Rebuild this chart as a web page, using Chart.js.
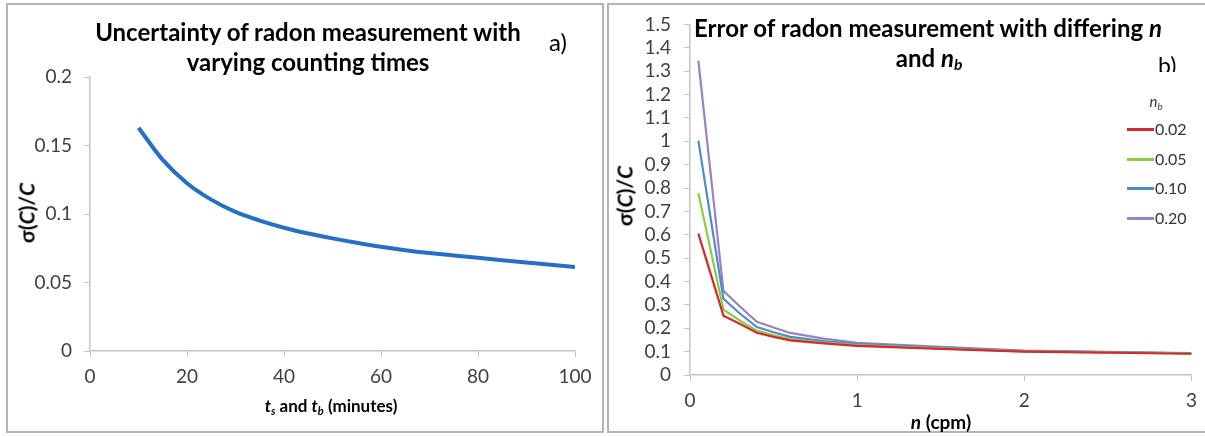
<!DOCTYPE html>
<html>
<head>
<meta charset="utf-8">
<script src="https://cdn.jsdelivr.net/npm/chart.js@4.4.1/dist/chart.umd.min.js"></script>
<style>
  body { margin: 0; background: #fff; width: 1205px; height: 436px; overflow: hidden; position: relative; font-family: Lato, "Open Sans", sans-serif; }
  .frame { position: absolute; border: 2px solid #b4b4b4; box-sizing: border-box; }
  .panel { position: absolute; top: 0; height: 436px; }
  .txt { position: absolute; white-space: nowrap; color: #000; }
  .ctr { transform: translate(-50%, -50%); }
  .rot { transform: translate(-50%, -50%) rotate(-90deg); }
  .legend-item { position: absolute; left: 1127px; height: 20px; font-size: 16px; color: #333; }
  .legend-item span.sw { position: absolute; left: 0; top: 9px; width: 27px; height: 3px; }
  .legend-item span.lb { position: absolute; left: 28px; top: 0; line-height: 20px; }
  sub { font-size: 65%; vertical-align: -0.25em; font-style: italic; }
</style>
</head>
<body>
<div class="frame" style="left:6px;top:3px;width:598px;height:430px;"></div>
<div class="frame" style="left:607px;top:3px;width:610px;height:430px;"></div>

<div class="panel" style="left:0;width:606px;"><canvas id="chartA" width="606" height="436"></canvas></div>
<div class="panel" style="left:606px;width:599px;"><canvas id="chartB" width="599" height="436"></canvas></div>

<div class="txt ctr" style="left:308px;top:31px;font-weight:bold;font-size:24px;">Uncertainty of radon measurement with</div>
<div class="txt ctr" style="left:308px;top:61px;font-weight:bold;font-size:24px;">varying counting times</div>
<div class="txt ctr" style="left:558px;top:41px;font-size:24px;">a)</div>
<div class="txt rot" style="left:26px;top:213px;font-weight:bold;font-size:21px;">σ(<i>C</i>)/<i>C</i></div>
<div class="txt ctr" style="left:331px;top:406px;font-weight:bold;font-size:17px;"><i>t</i><sub>s</sub> and <i>t</i><sub>b</sub> (minutes)</div>

<div class="txt ctr" style="left:928px;top:27px;font-weight:bold;font-size:24px;">Error of radon measurement with differing <i>n</i></div>
<div class="txt ctr" style="left:929px;top:58px;font-weight:bold;font-size:24px;">and <i>n</i><sub>b</sub></div>
<div class="txt" style="left:1158px;top:51px;height:21px;overflow:hidden;font-size:23px;line-height:28px;">b)</div>
<div class="txt rot" style="left:624px;top:196px;font-weight:bold;font-size:21px;">σ(<i>C</i>)/<i>C</i></div>
<div class="txt ctr" style="left:941px;top:421px;font-weight:bold;font-size:19px;"><i>n</i> (cpm)</div>
<div class="txt ctr" style="left:1156px;top:102px;font-size:15px;color:#333;"><i>n</i><sub>b</sub></div>
<div id="legendB"></div>

<script>
// panel a) : counting time vs relative uncertainty
const countTimes = [10, 15, 20, 25, 30, 35, 40, 45, 50, 55, 60, 65, 70, 75, 80, 85, 90, 95, 100];
const relUncertainty = [0.163, 0.1395, 0.1225, 0.1105, 0.1015, 0.0952, 0.0900, 0.0858, 0.0822, 0.0790, 0.0761, 0.0736, 0.0715, 0.0697, 0.0680, 0.0663, 0.0646, 0.0629, 0.0613];

// panel b) : count rate n vs error for different background rates nb
const countRates = [0.05, 0.2, 0.3, 0.4, 0.5, 0.6, 0.8, 1, 1.5, 2, 3];
const nbLabels = ['0.02', '0.05', '0.10', '0.20'];
const nbColors = ['#d7282f', '#8dcb3f', '#4c8ad0', '#9a80c4'];
const err002 = [0.605, 0.254, 0.218, 0.181, 0.163, 0.148, 0.135, 0.125, 0.112, 0.100, 0.091];
const err005 = [0.778, 0.280, 0.232, 0.190, 0.170, 0.154, 0.139, 0.128, 0.114, 0.101, 0.092];
const err010 = [1.003, 0.326, 0.262, 0.205, 0.183, 0.163, 0.145, 0.132, 0.117, 0.102, 0.093];
const err020 = [1.345, 0.360, 0.292, 0.228, 0.203, 0.180, 0.156, 0.138, 0.120, 0.104, 0.094];

const tickFont = { family: 'Lato, "Open Sans", sans-serif', size: 19 };
const axisGray = '#c4c4c4';
const fmt = v => String(+v.toFixed(2));

function axis(min, max, step, fitFn, pad) {
    return {
        type: 'linear',
        min: min,
        max: max,
        afterFit: fitFn,
        grid: { drawOnChartArea: false, drawTicks: true, tickLength: 6, color: axisGray },
        border: { display: true, color: axisGray, width: 1.5 },
        ticks: { stepSize: step, font: tickFont, color: '#404040', callback: fmt, padding: pad, autoSkip: false, maxRotation: 0 }
    };
}

new Chart(document.getElementById('chartA'), {
    type: 'line',
    data: {
        datasets: [{
            data: countTimes.map((t, i) => ({ x: t, y: relUncertainty[i] })),
            borderColor: '#2470c4',
            borderWidth: 4,
            pointRadius: 0,
            cubicInterpolationMode: 'monotone',
            fill: false
        }]
    },
    options: {
        responsive: false,
        animation: false,
        layout: { padding: { left: 0, top: 77, right: 31, bottom: 0 } },
        plugins: { legend: { display: false }, tooltip: { enabled: false } },
        scales: {
            x: axis(0, 100, 20, s => { s.height = 85; }, 8),
            y: axis(0, 0.2, 0.05, s => { s.width = 90; }, 12)
        }
    }
});

const seriesB = [err002, err005, err010, err020];
new Chart(document.getElementById('chartB'), {
    type: 'line',
    data: {
        datasets: seriesB.map((vals, k) => ({
            label: nbLabels[k],
            data: countRates.map((n, i) => ({ x: n, y: vals[i] })),
            borderColor: nbColors[k],
            borderWidth: 2.2,
            pointRadius: 0,
            tension: 0,
            fill: false
        }))
    },
    options: {
        responsive: false,
        animation: false,
        layout: { padding: { left: 0, top: 15, right: 11, bottom: 0 } },
        plugins: { legend: { display: false }, tooltip: { enabled: false } },
        scales: {
            x: axis(0, 3, 1, s => { s.height = 61; }, 8),
            y: axis(0, 1.5, 0.1, s => { s.width = 84; }, 13)
        }
    }
});

// legend for panel b
const legendBox = document.getElementById('legendB');
nbLabels.forEach((lab, k) => {
    const item = document.createElement('div');
    item.className = 'legend-item';
    item.style.top = (119 + k * 29.7) + 'px';
    item.innerHTML = '<span class="sw" style="background:' + nbColors[k] + '"></span><span class="lb">' + lab + '</span>';
    legendBox.appendChild(item);
});
</script>
</body>
</html>
